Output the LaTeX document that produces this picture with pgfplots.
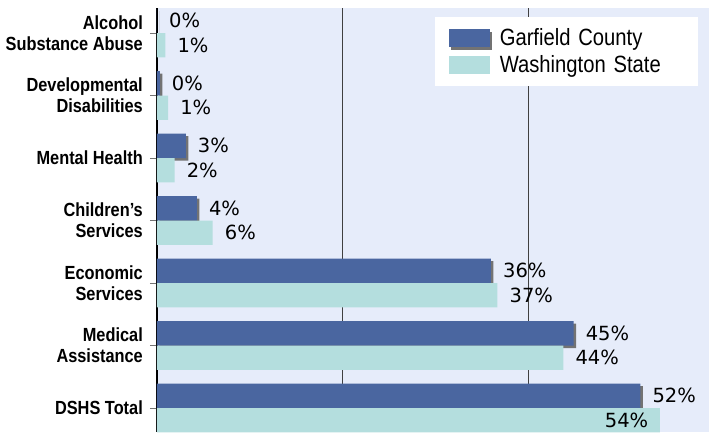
\documentclass[border=0pt]{standalone}
\usepackage{fontspec}
\setmainfont{Liberation Sans}[FakeStretch=0.86]
\newfontfamily\labfont{DejaVu Sans}
\usepackage{pgfplots}
\pgfplotsset{compat=1.18}
\usetikzlibrary{shadows}
\definecolor{garf}{RGB}{74,102,160}
\definecolor{wash}{RGB}{180,222,222}
\definecolor{bgc}{RGB}{230,236,250}
\newcommand\legbox{\pgfpathrectanglecorners{\pgfpoint{-14pt}{-13.5pt}}{\pgfpoint{51pt}{13.5pt}}\pgfusepath{}}
\begin{document}
\begin{tikzpicture}
\begin{axis}[
  scale only axis, width=552pt, height=424pt,
  xmin=0, xmax=59.5, ymin=-0.4, ymax=6.384, y dir=reverse,
  axis background/.style={fill=bgc},
  separate axis lines,
  axis x line*=bottom, x axis line style={draw=none},
  axis y line*=left, y axis line style={line width=2pt, black, -},
  xtick={20,40}, xticklabels={}, xtick style={draw=none},
  xmajorgrids, major grid style={black!75, line width=0.8pt},
  ytick={0,1,2,3,4,5,6},
  yticklabels={{Alcohol\\Substance Abuse},{Developmental\\Disabilities},{Mental Health},{Children's\\Services},{Economic\\Services},{Medical\\Assistance},{DSHS Total}},
  yticklabel style={font=\bfseries\fontsize{19}{21}\selectfont, align=right, inner xsep=7pt},
  ytick style={black!55, line width=0.8pt},
  tick align=outside, major tick length=7pt,
  xbar, bar width=0.39,
  point meta=explicit symbolic,
  every node near coord/.append style={font=\labfont\fontsize{19.5}{20}\selectfont, anchor=west, inner xsep=12pt, black},
  legend style={at={(1,1)}, anchor=north east, xshift=-11pt, yshift=-9pt, fill=white, draw=none,
    font=\fontsize{23.5}{24}\selectfont, inner xsep=0pt, inner ysep=7.5pt, row sep=0pt, column sep=0pt,
    nodes={inner sep=0pt, text width=198pt, align=left}},
  legend cell align=left,
  clip=false,
]
\addplot[bar shift=-0.195, fill=garf, draw=none,
  nodes near coords,
  drop shadow={shadow xshift=2.5pt, shadow yshift=-2.5pt, fill=black!55, opacity=1},
  legend image code/.code={\legbox
    \fill[garf, drop shadow={shadow xshift=2.5pt, shadow yshift=-2.5pt, fill=black!55, opacity=1}] (0pt,-9pt) rectangle (41pt,9pt);}]
  coordinates {(0,0) [0\%] (0.3,1) [0\%] (3.1,2) [3\%] (4.3,3) [4\%] (36.0,4) [36\%] (44.9,5) [45\%] (52.1,6) [52\%]};
\addlegendentry{Garfield County}
\addplot[bar shift=0.195, fill=wash, draw=none,
  visualization depends on={y \as \yy},
  nodes near coords={\ifdim\yy pt>5.5pt\hspace*{-68pt}\fi\pgfplotspointmeta},
  legend image code/.code={\legbox
    \fill[wash] (0pt,-9pt) rectangle (41pt,9pt);}]
  coordinates {(0.9,0) [1\%] (1.2,1) [1\%] (1.9,2) [2\%] (6.0,3) [6\%] (36.7,4) [37\%] (43.8,5) [44\%] (54.2,6) [54\%]};
\addlegendentry{Washington State}
\end{axis}
\pgfresetboundingbox
\path[use as bounding box] ([xshift=-157pt]current axis.south west) rectangle ([yshift=8pt]current axis.north east);
\end{tikzpicture}
\end{document}
